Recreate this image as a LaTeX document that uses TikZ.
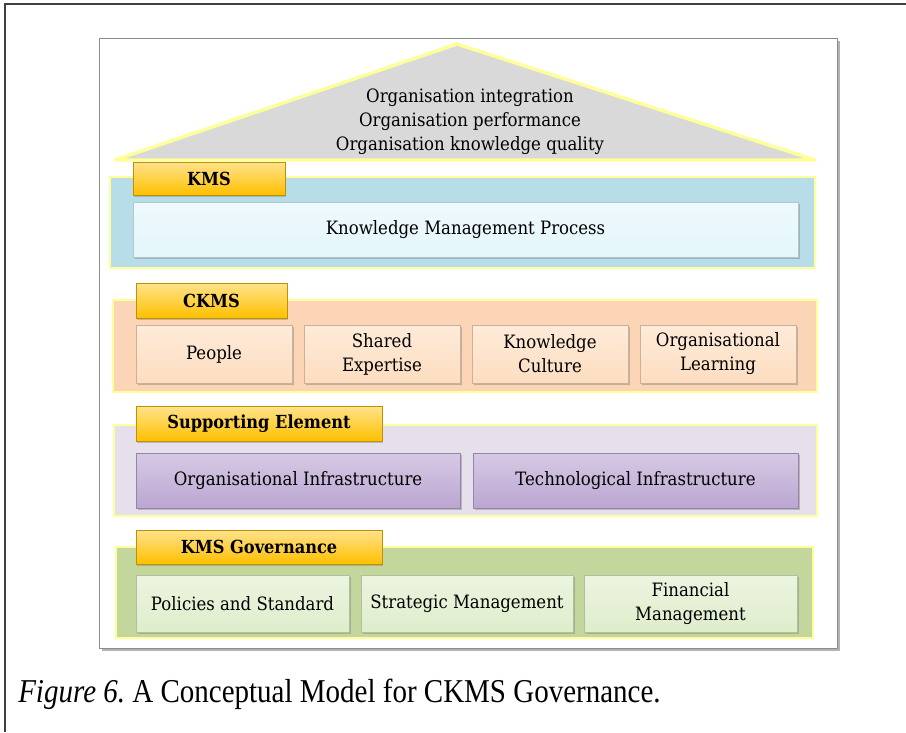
\documentclass[tikz,border=0pt]{standalone}
\usepackage{fontspec}
\setmainfont{DejaVu Serif}[FakeStretch=0.9]
\newfontfamily\capfont{Liberation Serif}[FakeStretch=0.87]
\usetikzlibrary{positioning,shadows}

\definecolor{roofgray}{HTML}{D9D9D9}
\definecolor{edgeyellow}{HTML}{FFFF99}
\definecolor{tabgold}{HTML}{FFC000}
\definecolor{kmsblue}{HTML}{B7DDE8}
\definecolor{kmpcyan}{HTML}{E3F6FB}
\definecolor{ckmspeach}{HTML}{FBD5B5}
\definecolor{itempeach}{HTML}{FDDDC0}
\definecolor{suplilac}{HTML}{E5E0EC}
\definecolor{itemlilac}{HTML}{BBA6D2}
\definecolor{govgreen}{HTML}{C3D69B}
\definecolor{itemgreen}{HTML}{DFEDCB}

\tikzset{
  layer/.style={draw=edgeyellow, line width=1.5pt,
    drop shadow={shadow xshift=1pt, shadow yshift=-1pt, opacity=0.35}},
  tab/.style={draw=tabgold!75!black, line width=0.4pt, inner sep=0pt,
    top color=tabgold!45!white, bottom color=tabgold,
    font=\bfseries\fontsize{13.5}{16}\selectfont,
    drop shadow={shadow xshift=1pt, shadow yshift=-1.2pt, opacity=0.4}},
  item/.style={draw=#1!80!black, line width=0.4pt, inner sep=0pt, align=center,
    top color=#1!60!white, bottom color=#1,
    font=\fontsize{13.8}{18}\selectfont,
    drop shadow={shadow xshift=1.2pt, shadow yshift=-1.5pt, opacity=0.45}}
}

\begin{document}
\begin{tikzpicture}[x=0.75pt, y=-0.75pt]
\useasboundingbox (0,0) rectangle (906,732);

% Page frame
\draw[black!75, line width=0.9pt] (5,732) -- (5,4) -- (906,4);

% Picture frame
\draw[draw=black!45, fill=white, line width=0.6pt,
  drop shadow={shadow xshift=2.5pt, shadow yshift=-2.5pt, opacity=0.6}]
  (99,38) rectangle (837,648);

% Roof
\filldraw[fill=roofgray, draw=edgeyellow, line width=2.5pt, line join=round]
  (115,160) -- (457,44) -- (815,160) -- cycle;
\node[align=center, font=\fontsize{13.8}{18}\selectfont] (roof) at (470,122)
  {Organisation integration\\Organisation performance\\Organisation knowledge quality};

% KMS layer
\draw[layer, fill=kmsblue] (110,177) rectangle (815,268);
\node[tab, minimum width=114pt, minimum height=24.75pt] (kms) at (209,178.5) {KMS};
\node[item=kmpcyan, minimum width=498.75pt, minimum height=41.25pt] (process) at (465.5,229.5)
  {Knowledge Management Process};

% CKMS layer
\draw[layer, fill=ckmspeach] (113,300) rectangle (817,392);
\node[tab, minimum width=113.25pt, minimum height=26.25pt] (ckms) at (211.5,300.5) {CKMS};
\node[item=itempeach, minimum width=117pt, minimum height=43.5pt] (people) at (214,354) {People};
\node[item=itempeach, minimum width=117pt, minimum height=43.5pt] (expertise) at (382,354) {Shared\\Expertise};
\node[item=itempeach, minimum width=117pt, minimum height=43.5pt] (culture) at (550,354) {Knowledge\\Culture};
\node[item=itempeach, minimum width=117pt, minimum height=43.5pt] (learning) at (718,354) {Organisational\\Learning};

% Supporting element layer
\draw[layer, fill=suplilac] (114,425) rectangle (817,516);
\node[tab, minimum width=184.5pt, minimum height=26.25pt] (support) at (259,423.5) {Supporting Element};
\node[item=itemlilac, minimum width=243pt, minimum height=41.25pt] (orginfra) at (298,480.5)
  {Organisational Infrastructure};
\node[item=itemlilac, minimum width=243.75pt, minimum height=41.25pt] (techinfra) at (635.5,480.5)
  {Technological Infrastructure};

% KMS governance layer
\draw[layer, fill=govgreen] (116,547) rectangle (813,638);
\node[tab, minimum width=184.5pt, minimum height=25.5pt] (governance) at (259,547) {KMS Governance};
\node[item=itemgreen, minimum width=159.75pt, minimum height=42.75pt] (policies) at (242.5,603.5)
  {Policies and Standard};
\node[item=itemgreen, minimum width=159pt, minimum height=42.75pt] (strategic) at (467,603.5)
  {Strategic Management};
\node[item=itemgreen, minimum width=159.75pt, minimum height=42.75pt] (financial) at (690.5,603.5)
  {Financial\\Management};

% Caption
\node[anchor=base west, inner sep=0pt, font=\capfont\fontsize{25}{30}\selectfont] (caption) at (18,702)
  {\textit{Figure 6.}\ A Conceptual Model for CKMS Governance.};
\end{tikzpicture}
\end{document}
